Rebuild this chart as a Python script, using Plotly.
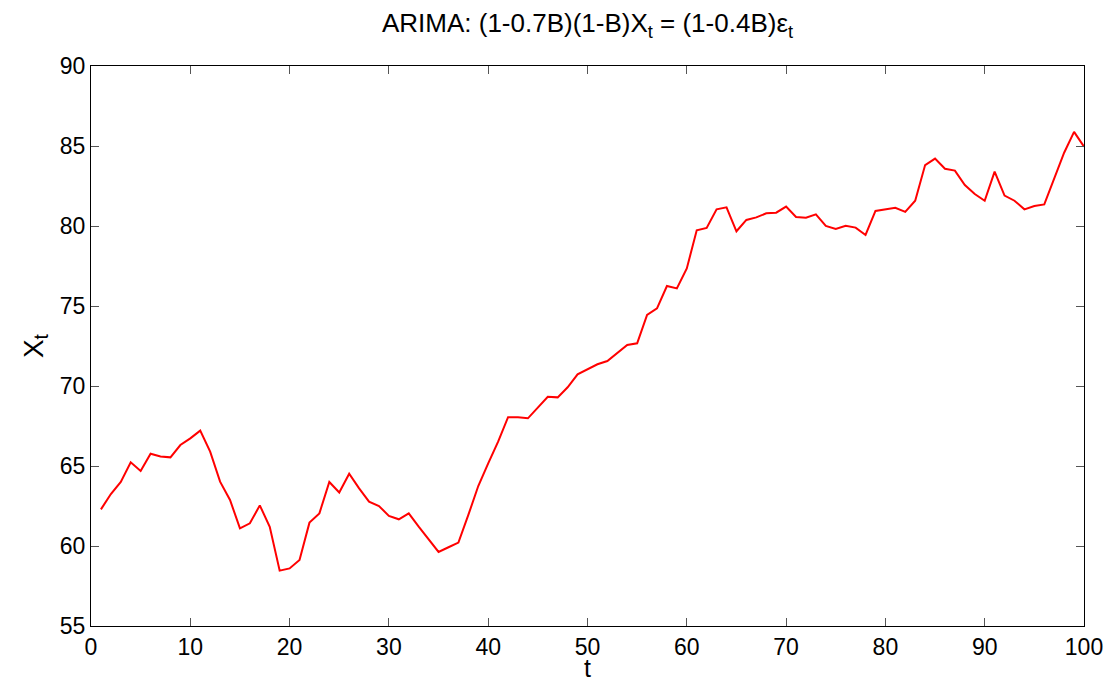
import plotly.graph_objects as go

t = list(range(1, 101))
x_t = [
    62.29, 63.25, 64.00, 65.23, 64.69, 65.77, 65.60, 65.54, 66.31, 66.73,
    67.21, 65.90, 64.02, 62.88, 61.10, 61.42, 62.54, 61.20, 58.46, 58.60,
    59.13, 61.46, 62.04, 64.00, 63.34, 64.52, 63.60, 62.77, 62.50, 61.88,
    61.67, 62.04, 61.21, 60.42, 59.63, 59.92, 60.21, 61.94, 63.75, 65.17,
    66.52, 68.05, 68.04, 67.98, 68.67, 69.33, 69.29, 69.92, 70.73, 71.06,
    71.36, 71.56, 72.04, 72.56, 72.67, 74.44, 74.85, 76.25, 76.10, 77.35,
    79.73, 79.88, 81.04, 81.17, 79.67, 80.38, 80.54, 80.79, 80.83, 81.21,
    80.56, 80.52, 80.73, 80.00, 79.81, 80.02, 79.90, 79.44, 80.94, 81.05,
    81.14, 80.88, 81.58, 83.81, 84.21, 83.58, 83.46, 82.56, 82.00, 81.58,
    83.40, 81.90, 81.58, 81.04, 81.25, 81.35, 83.02, 84.58, 85.88, 84.96,
]
x_ticks = [0, 10, 20, 30, 40, 50, 60, 70, 80, 90, 100]
y_ticks = [55, 60, 65, 70, 75, 80, 85, 90]

fig = go.Figure()
fig.add_trace(go.Scatter(x=t, y=x_t, mode="lines",
                         line=dict(color="#ff0000", width=2), showlegend=False))

font_family = "Liberation Sans, Arial, sans-serif"
axis_common = dict(
    showgrid=False, zeroline=False, showline=True, linecolor="black", linewidth=1,
    mirror="allticks", ticks="inside", ticklen=8, tickcolor="#555555", tickwidth=1,
    tickfont=dict(family=font_family, size=23, color="black"), automargin=False,
)
fig.update_layout(
    width=1112, height=685,
    margin=dict(l=91, r=28, t=66, b=59),
    paper_bgcolor="white", plot_bgcolor="white",
    title=dict(text="ARIMA: (1-0.7B)(1-B)X<sub>t</sub> = (1-0.4B)ε<sub>t</sub>",
               x=(91 + 1084) / 2 / 1112, xanchor="center", y=1 - 23 / 685, yanchor="middle",
               font=dict(family=font_family, size=26, color="black")),
    xaxis=dict(range=[0, 100], tickvals=x_ticks, ticktext=[str(v) for v in x_ticks],
               **axis_common),
    yaxis=dict(range=[55, 90], tickvals=y_ticks, ticktext=[str(v) for v in y_ticks],
               title=dict(text="X<sub>t</sub>", font=dict(family=font_family, size=28, color="black"),
                          standoff=8), **axis_common),
)
fig.add_annotation(text="t", xref="paper", yref="paper", x=0.5, y=-(684 - 626) / 560,
                   xanchor="center", yanchor="bottom", showarrow=False,
                   font=dict(family=font_family, size=25, color="black"))
fig.write_html("out.html")
